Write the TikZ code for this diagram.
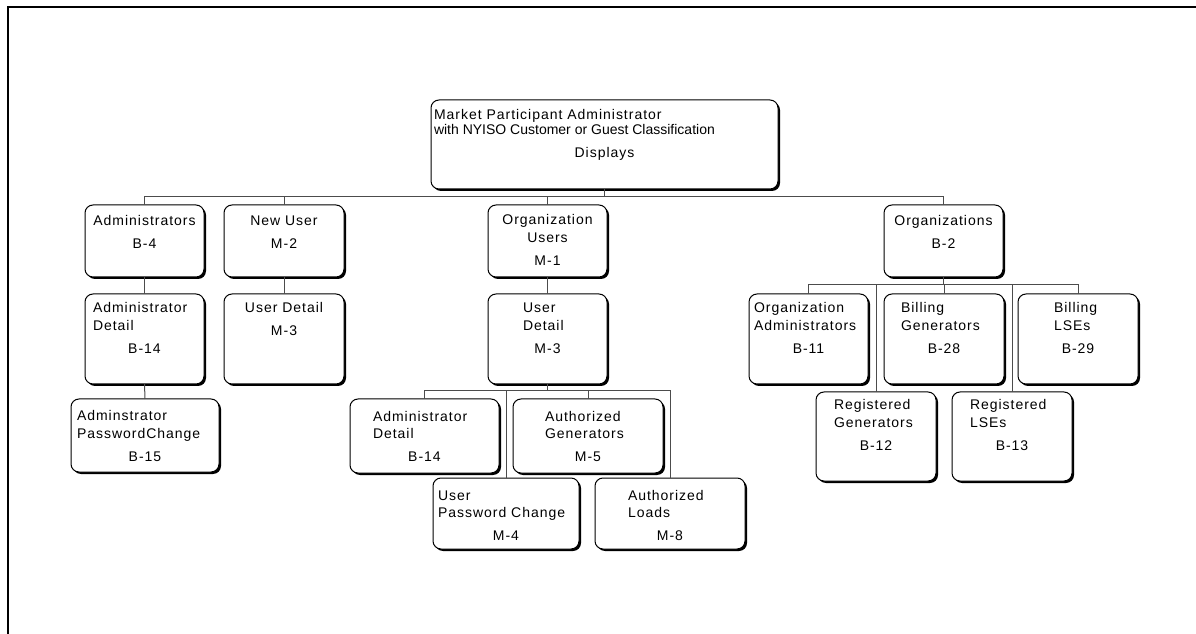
\documentclass[tikz,border=0pt]{standalone}
\usepackage{fontspec}
\setmainfont{Liberation Sans}[LetterSpace=7]
\newfontfamily\plainface{Liberation Sans}
\usetikzlibrary{shadows}

% one drawing unit = one screen pixel
\newlength\upx
\setlength\upx{0.75pt}

% text lines inside a card: left-aligned (optional inset) or centred
\newcommand\lineL[2][0]{\makebox[\linewidth][l]{\hspace*{#1\upx}\rule{0pt}{10.5\upx}#2}\par}
\newcommand\lineC[1]{\makebox[\linewidth][c]{\rule{0pt}{10.5\upx}#1}\par}
\newcommand\pgap{\vspace{5.5\upx}}
% card body: width, height, top offset, lines
\newcommand\cardbody[4]{\parbox[c][#2\upx][t]{#1\upx}{%
  \setlength\parskip{0pt}\setlength\parindent{0pt}%
  \setlength\baselineskip{17.5\upx}\vspace*{#3\upx}#4}}

\tikzset{
  card/.style={draw=black, line width=0.75pt, rounded corners=6pt, fill=white,
    inner sep=0pt, outer sep=0pt,
    font=\fontsize{10.5pt}{13pt}\selectfont,
    drop shadow={shadow xshift=1.5pt, shadow yshift=-1.5pt, opacity=1, fill=black}},
  link/.style={draw=black!70, line width=0.75pt},
  frame/.style={draw=black, line width=1.5pt}
}

\begin{document}
\begin{tikzpicture}[x=0.75pt, y=-0.75pt]
\useasboundingbox (0,0) rectangle (1196,634);

% page frame (top and left rules)
\draw[frame] (7.5,634) -- (7.5,7.5) -- (1196,7.5);

% root
\node[card] (top) at (604.5,144.5) {\cardbody{347}{89}{9.5}{%
  \lineL[3]{Market Participant Administrator}\vspace{-2.5\upx}%
  \lineL[3]{\plainface with NYISO Customer or Guest Classification}\pgap
  \lineC{Displays}}};

% first level
\node[card] (adm) at (144.5,241) {\cardbody{119}{72}{10.5}{%
  \lineC{Administrators}\pgap\lineC{B-4}}};
\node[card] (newu) at (284,241) {\cardbody{120}{72}{10.5}{%
  \lineC{New User}\pgap\lineC{M-2}}};
\node[card] (orgu) at (547.5,241) {\cardbody{119}{72}{9.5}{%
  \lineC{Organization}\lineC{Users}\pgap\lineC{M-1}}};
\node[card] (orgs) at (943.5,241) {\cardbody{119}{72}{10.5}{%
  \lineC{Organizations}\pgap\lineC{B-2}}};

% second level
\node[card] (admd) at (144.5,339) {\cardbody{119}{90}{8.5}{%
  \lineL[8]{Administrator}\lineL[8]{Detail}\pgap\lineC{B-14}}};
\node[card] (usrd) at (284,339) {\cardbody{120}{90}{8.5}{%
  \lineC{User Detail}\pgap\lineC{M-3}}};
\node[card] (usrd2) at (547.5,339) {\cardbody{119}{90}{8.5}{%
  \lineL[35]{User}\lineL[35]{Detail}\pgap\lineC{M-3}}};
\node[card] (orga) at (808.5,339) {\cardbody{119}{90}{8.5}{%
  \lineL[5]{Organization}\lineL[5]{Administrators}\pgap\lineC{B-11}}};
\node[card] (billg) at (944,339) {\cardbody{120}{90}{8.5}{%
  \lineL[17]{Billing}\lineL[17]{Generators}\pgap\lineC{B-28}}};
\node[card] (billl) at (1078,339) {\cardbody{120}{90}{8.5}{%
  \lineL[36]{Billing}\lineL[36]{LSEs}\pgap\lineC{B-29}}};

% third level
\node[card] (admpw) at (145,435.5) {\cardbody{148}{73}{11.5}{%
  \lineL[6]{Adminstrator}\lineL[6]{PasswordChange}\pgap\lineC{B-15}}};
\node[card] (admd2) at (424.5,436) {\cardbody{149}{74}{11.5}{%
  \lineL[23]{Administrator}\lineL[23]{Detail}\pgap\lineC{B-14}}};
\node[card] (authg) at (588,436) {\cardbody{150}{74}{11.5}{%
  \lineL[32]{Authorized}\lineL[32]{Generators}\pgap\lineC{M-5}}};
\node[card] (regg) at (876,436.5) {\cardbody{120}{89}{7.5}{%
  \lineL[18]{Registered}\lineL[18]{Generators}\pgap\lineC{B-12}}};
\node[card] (regl) at (1012,436.5) {\cardbody{120}{89}{7.5}{%
  \lineL[18]{Registered}\lineL[18]{LSEs}\pgap\lineC{B-13}}};

% fourth level
\node[card] (upw) at (506,513.5) {\cardbody{146}{71}{11.5}{%
  \lineL[5]{User}\lineL[5]{Password Change}\pgap\lineC{M-4}}};
\node[card] (authl) at (670,513.5) {\cardbody{150}{71}{11.5}{%
  \lineL[33]{Authorized}\lineL[33]{Loads}\pgap\lineC{M-8}}};

% bus levels
\coordinate (busA) at (0,197);
\coordinate (busB) at (0,391);
\coordinate (busC) at (0,285);

% root to first level
\draw[link] (top.south) -- (top.south |- busA);
\draw[link] (adm.north) -- (adm.north |- busA) -- (orgs.north |- busA) -- (orgs.north);
\draw[link] (newu.north) -- (newu.north |- busA);
\draw[link] (orgu.north) -- (orgu.north |- busA);

% single chains
\draw[link] (adm.south) -- (admd.north);
\draw[link] (admd.south) -- (admpw.north);
\draw[link] (newu.south) -- (usrd.north);
\draw[link] (orgu.south) -- (usrd2.north);

% user detail children
\draw[link] (usrd2.south) -- (usrd2.south |- busB);
\draw[link] (admd2.north) -- (admd2.north |- busB) -- (authl.north |- busB) -- (authl.north);
\draw[link] (upw.north) -- (upw.north |- busB);
\draw[link] (authg.north) -- (authg.north |- busB);

% organizations children
\draw[link] (orgs.south) -- (orgs.south |- busC);
\draw[link] (orga.north) -- (orga.north |- busC) -- (billl.north |- busC) -- (billl.north);
\draw[link] (regg.north) -- (regg.north |- busC);
\draw[link] (billg.north) -- (billg.north |- busC);
\draw[link] (regl.north) -- (regl.north |- busC);
\end{tikzpicture}
\end{document}
